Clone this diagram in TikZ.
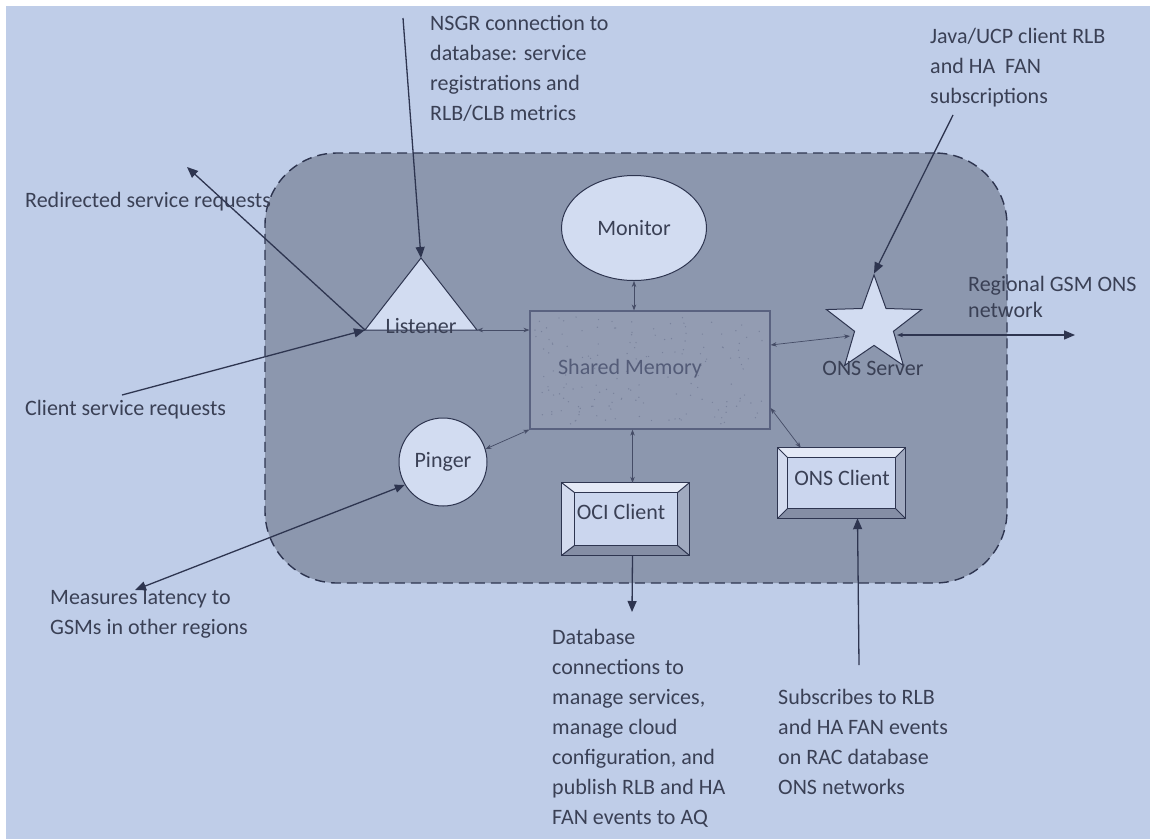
\documentclass[tikz,border=0pt]{standalone}
\usepackage{fontspec}
\setmainfont{Carlito}
\usetikzlibrary{shapes.geometric,arrows.meta}
\definecolor{bgblue}{HTML}{BFCDE8}
\definecolor{panel}{HTML}{8C97AE}
\definecolor{shapefill}{HTML}{D2DCF1}
\definecolor{linec}{HTML}{2E3550}
\definecolor{smallc}{HTML}{454C66}
\definecolor{txt}{HTML}{3A4055}
\definecolor{shmfill}{HTML}{939CB2}
\definecolor{shmline}{HTML}{5A6280}
\definecolor{shmtxt}{HTML}{545C78}
\definecolor{bevtopc}{HTML}{E4E9F6}
\definecolor{bevleftc}{HTML}{D3DBEF}
\definecolor{bevrightc}{HTML}{A0A9BF}
\definecolor{bevbotc}{HTML}{858EA5}
\definecolor{innerc}{HTML}{CBD6EE}
\begin{document}
\begin{tikzpicture}[x=1pt,y=-1pt,
  txtnode/.style={anchor=north west, inner sep=0pt, align=left, text=txt, font=\fontsize{22}{30}\selectfont},
  lbl/.style={inner sep=0pt, text=txt, font=\fontsize{22}{26}\selectfont},
  bigarrow/.style={draw=linec, line width=1.3pt, -{Triangle[length=11pt,width=9pt]}},
  smallarr/.style={draw=smallc, line width=0.7pt, {Stealth[length=6pt,width=4.5pt]}-{Stealth[length=6pt,width=4.5pt]}},
  shapeborder/.style={draw=linec, line width=1pt, fill=shapefill},
  frame/.style={inner sep=0pt, draw=none},
  boxline/.style={draw=linec, line width=1pt}
]
\useasboundingbox (0,0) rectangle (1150,839);
\fill[white] (0,0) rectangle (1150,839);
\fill[bgblue] (6,6) rectangle (1150,839);

% container
\node[frame, fill=panel, draw=linec, line width=1.4pt, dash pattern=on 10pt off 6pt,
      rounded corners=72pt, minimum width=742pt, minimum height=430pt] (cont) at (636,368) {};

% shared memory
\node[inner sep=0pt, fill=shmfill, draw=shmline, line width=1.2pt, minimum width=240pt, minimum height=118pt] (shm) at (650,370) {};
\pgfmathsetseed{7}
\foreach \i in {1,...,160}{
  \pgfmathsetmacro{\rx}{535+230*rnd}
  \pgfmathsetmacro{\ry}{316+108*rnd}
  \fill[color=shmline!45!shmfill] (\rx,\ry) circle (0.7pt);
}
\node[inner sep=0pt, text=shmtxt, font=\fontsize{22}{26}\selectfont] (shmt) at (630,369) {Shared Memory};

% monitor
\node[ellipse, shapeborder, inner sep=0pt, minimum width=145pt, minimum height=105pt, text=txt, font=\fontsize{22}{26}\selectfont] (mon) at (634,228) {Monitor};

% listener
\coordinate (lapex) at (421,258);
\coordinate (lbl) at (365,330);
\coordinate (lbr) at (477,330);
\path[shapeborder] (lapex) -- (lbr) -- (lbl) -- cycle;
\node[lbl] (lis) at (421,326) {Listener};

% pinger
\node[circle, shapeborder, inner sep=0pt, minimum size=88pt, text=txt, font=\fontsize{22}{26}\selectfont] (ping) at (443,462) {Pinger};

% ONS server
\node[star, star points=5, star point ratio=2.45, minimum size=100pt, inner sep=0pt, shapeborder] (ons) at (874,325) {};
\node[lbl] (onst) at (873,368) {ONS Server};

% OCI client bevel box
\node[frame, minimum width=127pt, minimum height=72pt] (oci) at (625.5,519) {};
\node[frame, minimum width=102pt, minimum height=52pt] (ociin) at (626,519) {};
\fill[bevtopc] (oci.north west) -- (oci.north east) -- (ociin.north east) -- (ociin.north west) -- cycle;
\fill[bevleftc] (oci.north west) -- (ociin.north west) -- (ociin.south west) -- (oci.south west) -- cycle;
\fill[bevrightc] (oci.north east) -- (ociin.north east) -- (ociin.south east) -- (oci.south east) -- cycle;
\fill[bevbotc] (oci.south west) -- (ociin.south west) -- (ociin.south east) -- (oci.south east) -- cycle;
\fill[innerc] (ociin.north west) rectangle (ociin.south east);
\draw[boxline] (oci.north west) rectangle (oci.south east);
\draw[boxline] (ociin.north west) rectangle (ociin.south east);
\draw[boxline] (oci.north west) -- (ociin.north west) (oci.north east) -- (ociin.north east)
  (oci.south west) -- (ociin.south west) (oci.south east) -- (ociin.south east);
\node[lbl] (ocit) at (621,512) {OCI Client};

% ONS client bevel box
\node[frame, minimum width=127pt, minimum height=70pt] (onsc) at (841.5,483) {};
\node[frame, minimum width=107pt, minimum height=50pt] (onscin) at (841.5,483) {};
\fill[bevtopc] (onsc.north west) -- (onsc.north east) -- (onscin.north east) -- (onscin.north west) -- cycle;
\fill[bevleftc] (onsc.north west) -- (onscin.north west) -- (onscin.south west) -- (onsc.south west) -- cycle;
\fill[bevrightc] (onsc.north east) -- (onscin.north east) -- (onscin.south east) -- (onsc.south east) -- cycle;
\fill[bevbotc] (onsc.south west) -- (onscin.south west) -- (onscin.south east) -- (onsc.south east) -- cycle;
\fill[innerc] (onscin.north west) rectangle (onscin.south east);
\draw[boxline] (onsc.north west) rectangle (onsc.south east);
\draw[boxline] (onscin.north west) rectangle (onscin.south east);
\draw[boxline] (onsc.north west) -- (onscin.north west) (onsc.north east) -- (onscin.north east)
  (onsc.south west) -- (onscin.south west) (onsc.south east) -- (onscin.south east);
\node[lbl] (onsct) at (842,478) {ONS Client};

% outside texts
\node[txtnode] (nsgr) at (430,15) {NSGR connection to\\database: service\\registrations and\\RLB/CLB metrics};
\node[txtnode] (java) at (930,28) {Java/UCP client RLB\\and HA\ \ FAN\\subscriptions};
\node[txtnode] (redirt) at (25,192) {Redirected service requests};
\node[txtnode] (clientt) at (25,400) {Client service requests};
\node[txtnode, font=\fontsize{22}{26}\selectfont] (regt) at (968,276) {Regional GSM ONS\\network};
\node[txtnode] (meast) at (50,589) {Measures latency to\\GSMs in other regions};
\node[txtnode] (dbt) at (552,629) {Database\\connections to\\manage services,\\manage cloud\\configuration, and\\publish RLB and HA\\FAN events to AQ};
\node[txtnode] (subt) at (778,689) {Subscribes to RLB\\and HA FAN events\\on RAC database\\ONS networks};

% free ends
\coordinate (nsgrs) at (403,18);
\coordinate (javas) at (953,115);
\coordinate (redir) at (187,167);
\coordinate (clients) at (122,395);
\coordinate (meas) at (135,590);
\coordinate (regional) at (1075,335);
\coordinate (ocib) at (632,612);
\coordinate (onscb) at (859,665);

% connectors
\draw[bigarrow] (nsgrs) -- (lapex);
\draw[bigarrow] (javas) -- (ons.north);
\draw[bigarrow] (lbl) -- (redir);
\draw[bigarrow] (clients) -- (lbl);
\draw[smallarr] (lbr) -- (shm.west |- lbr);
\draw[smallarr] (mon.south) -- (mon.south |- shm.north);
\draw[smallarr] ([yshift=25pt]shm.east) -- ([xshift=-24pt,yshift=-11pt]ons.center);
\draw[draw=linec, line width=1.3pt, {Stealth[length=6pt,width=4.5pt]}-{Triangle[length=11pt,width=9pt]}] ([xshift=23pt,yshift=-10pt]ons.center) -- (regional);
\draw[smallarr] (ping.17) -- (shm.south west);
\draw[draw=linec, line width=1.3pt, {Triangle[length=11pt,width=9pt]}-{Triangle[length=10pt,width=8pt]}] (meas) -- (ping.211);
\draw[smallarr] ([xshift=7pt]oci.north) -- ([xshift=7pt]oci.north |- shm.south);
\draw[bigarrow] ([xshift=7pt]oci.south) -- (ocib);
\draw[smallarr] ([yshift=-38pt]shm.east) -- ([xshift=23pt]onsc.north west);
\draw[bigarrow] (onscb) -- ([xshift=16pt]onsc.south);
\end{tikzpicture}
\end{document}
